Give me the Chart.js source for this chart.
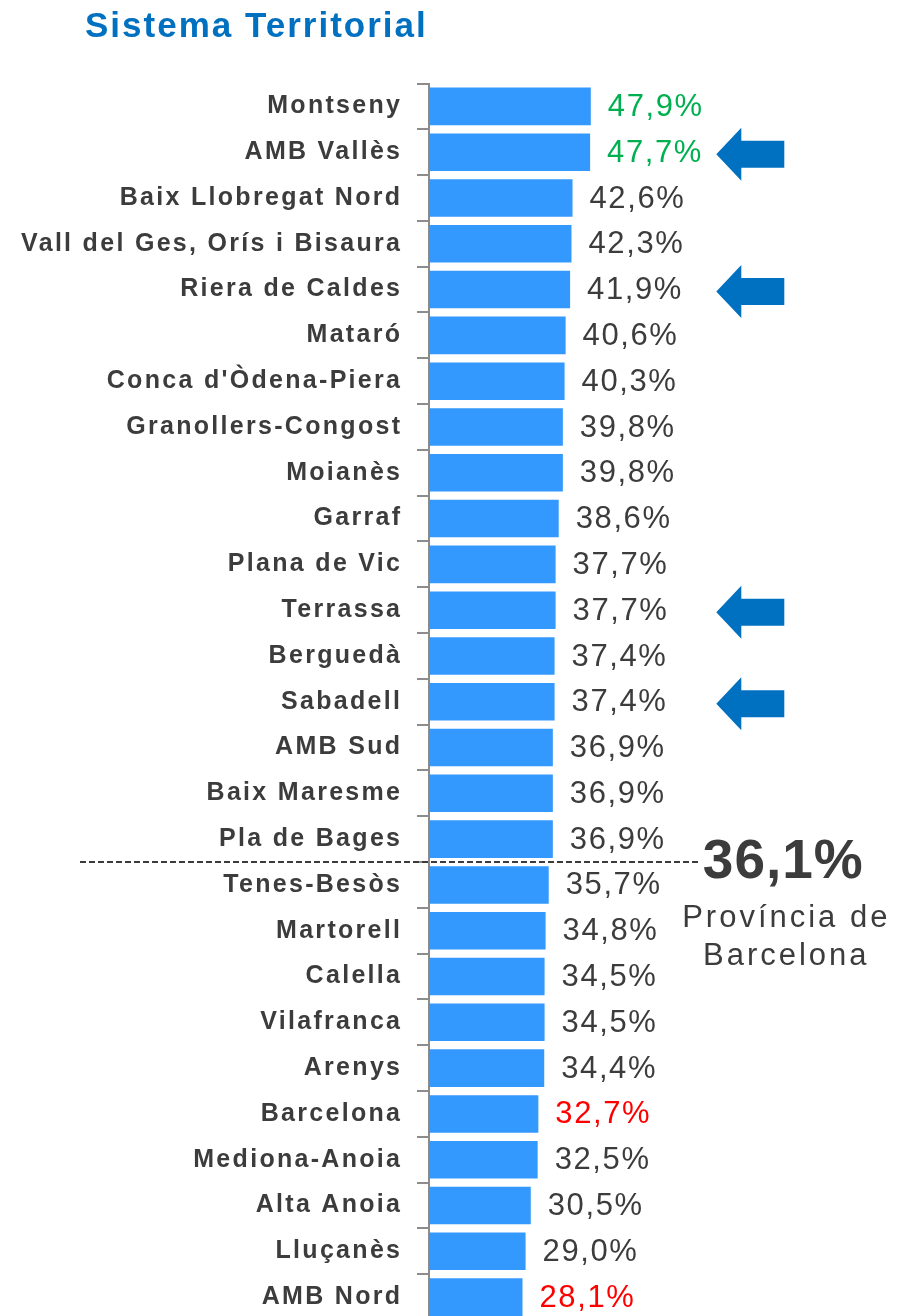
<!DOCTYPE html>
<html>
<head>
<meta charset="utf-8">
<script src="https://cdn.jsdelivr.net/npm/chart.js@4.4.1/dist/chart.umd.min.js"></script>
<style>
    html, body { margin: 0; padding: 0; background: #fff; overflow: hidden; }
    canvas { display: block; }
</style>
</head>
<body>
<canvas id="myChart" width="900" height="1360"></canvas>
<script>
// Sistemes territorials, in the order of the picture
const categories = [
    "Montseny", "AMB Vallès", "Baix Llobregat Nord", "Vall del Ges, Orís i Bisaura",
    "Riera de Caldes", "Mataró", "Conca d'Òdena-Piera", "Granollers-Congost", "Moianès",
    "Garraf", "Plana de Vic", "Terrassa", "Berguedà", "Sabadell", "AMB Sud",
    "Baix Maresme", "Pla de Bages", "Tenes-Besòs", "Martorell", "Calella", "Vilafranca",
    "Arenys", "Barcelona", "Mediona-Anoia", "Alta Anoia", "Lluçanès", "AMB Nord"
];
const values = [
    47.9, 47.7, 42.6, 42.3, 41.9, 40.6, 40.3, 39.8, 39.8,
    38.6, 37.7, 37.7, 37.4, 37.4, 36.9,
    36.9, 36.9, 35.7, 34.8, 34.5, 34.5,
    34.4, 32.7, 32.5, 30.5, 29.0, 28.1
];
const greenLabels = ["Montseny", "AMB Vallès"];
const redLabels = ["Barcelona", "AMB Nord"];
const arrowed = ["AMB Vallès", "Riera de Caldes", "Terrassa", "Sabadell"];
const provinceValue = 36.1;
const provinceLabel = ["Província de", "Barcelona"];
const chartTitle = "Sistema Territorial";

const FONT = '"Liberation Sans", Arial, sans-serif';
const TEXT = "#3c3c3c";
const BLUE = "#0070C0";

function formatPct(v) {
    return v.toFixed(1).replace(".", ",") + "%";
}

//Pijl naar links, punt op (x, y)
function drawArrow(ctx, x, y) {
    ctx.beginPath();
    ctx.moveTo(x, y);
    ctx.lineTo(x + 25, y - 26.5);
    ctx.lineTo(x + 25, y - 13.5);
    ctx.lineTo(x + 68, y - 13.5);
    ctx.lineTo(x + 68, y + 13.5);
    ctx.lineTo(x + 25, y + 13.5);
    ctx.lineTo(x + 25, y + 26.5);
    ctx.closePath();
    ctx.fill();
}

const extras = {
    id: "extras",
    beforeDraw(chart) {
        const ctx = chart.ctx;
        ctx.save();
        ctx.fillStyle = "#fff";
        ctx.fillRect(0, 0, chart.width, chart.height);
        ctx.restore();
        // spacing for the category labels of the y axis
        ctx.letterSpacing = "2.3px";
    },
    afterDraw(chart) {
        const ctx = chart.ctx;
        const yScale = chart.scales.y;
        const area = chart.chartArea;
        const meta = chart.getDatasetMeta(0);

        ctx.save();

        // title
        ctx.letterSpacing = "2px";
        ctx.font = "bold 35px " + FONT;
        ctx.fillStyle = BLUE;
        ctx.textAlign = "left";
        ctx.textBaseline = "alphabetic";
        ctx.fillText(chartTitle, 85, 37);

        // value labels
        ctx.letterSpacing = "1.6px";
        ctx.font = "31px " + FONT;
        ctx.textBaseline = "middle";
        for (let i = 0; i < values.length; i++) {
            const bar = meta.data[i];
            if (greenLabels.includes(categories[i])) {
                ctx.fillStyle = "#00B050";
            } else if (redLabels.includes(categories[i])) {
                ctx.fillStyle = "#FF0000";
            } else {
                ctx.fillStyle = TEXT;
            }
            ctx.fillText(formatPct(values[i]), bar.x + 17, bar.y + 1);
        }

        // province average: dashed line between the last bar above and first bar below
        const idx = values.findIndex(v => v < provinceValue);
        const lineY = (yScale.getPixelForValue(idx - 1) + yScale.getPixelForValue(idx)) / 2;
        ctx.strokeStyle = TEXT;
        ctx.lineWidth = 2;
        ctx.setLineDash([6, 3]);
        ctx.beginPath();
        ctx.moveTo(80, lineY);
        ctx.lineTo(area.right + 85, lineY);
        ctx.stroke();
        ctx.setLineDash([]);

        const cx = area.right + 168;
        ctx.fillStyle = TEXT;
        ctx.textAlign = "center";
        ctx.textBaseline = "alphabetic";
        ctx.letterSpacing = "1px";
        ctx.font = "bold 55px " + FONT;
        ctx.fillText(formatPct(provinceValue), cx, lineY + 16);
        ctx.letterSpacing = "3px";
        ctx.font = "31px " + FONT;
        ctx.fillText(provinceLabel[0], cx + 3, lineY + 65);
        ctx.fillText(provinceLabel[1], cx + 3, lineY + 103);

        // arrows
        ctx.fillStyle = BLUE;
        for (let i = 0; i < arrowed.length; i++) {
            const k = categories.indexOf(arrowed[i]);
            drawArrow(ctx, area.right + 101, yScale.getPixelForValue(k) + 2);
        }

        ctx.restore();
    }
};

const data = {
    labels: categories,
    datasets: [{
        data: values,
        backgroundColor: "#3399FF",
        borderWidth: 0,
        barPercentage: 0.82,
        categoryPercentage: 1
    }]
};

const options = {
    indexAxis: "y",
    responsive: false,
    animation: false,
    layout: {
        // bottom: the last row runs past the edge of the picture
        padding: { top: 83.5, right: 284.7, bottom: 40, left: 0 }
    },
    plugins: {
        legend: { display: false },
        tooltip: { enabled: false },
        title: { display: false }
    },
    scales: {
        x: {
            type: "linear",
            display: false,
            min: 1,
            max: 55
        },
        y: {
            type: "category",
            offset: true,
            afterFit: function (scale) { scale.width = 429; },
            grid: {
                display: true,
                offset: true,
                drawOnChartArea: false,
                drawTicks: true,
                tickLength: 12,
                color: "#8c8c8c",
                lineWidth: 2
            },
            border: { display: true, color: "#8c8c8c", width: 2 },
            ticks: {
                autoSkip: false,
                padding: 14.7,
                color: TEXT,
                font: { family: FONT, size: 25, weight: "bold" }
            }
        }
    }
};

const ctx = document.getElementById("myChart").getContext("2d");
const myChart = new Chart(ctx, {
    type: "bar",
    data: data,
    options: options,
    plugins: [extras]
});
</script>
</body>
</html>
